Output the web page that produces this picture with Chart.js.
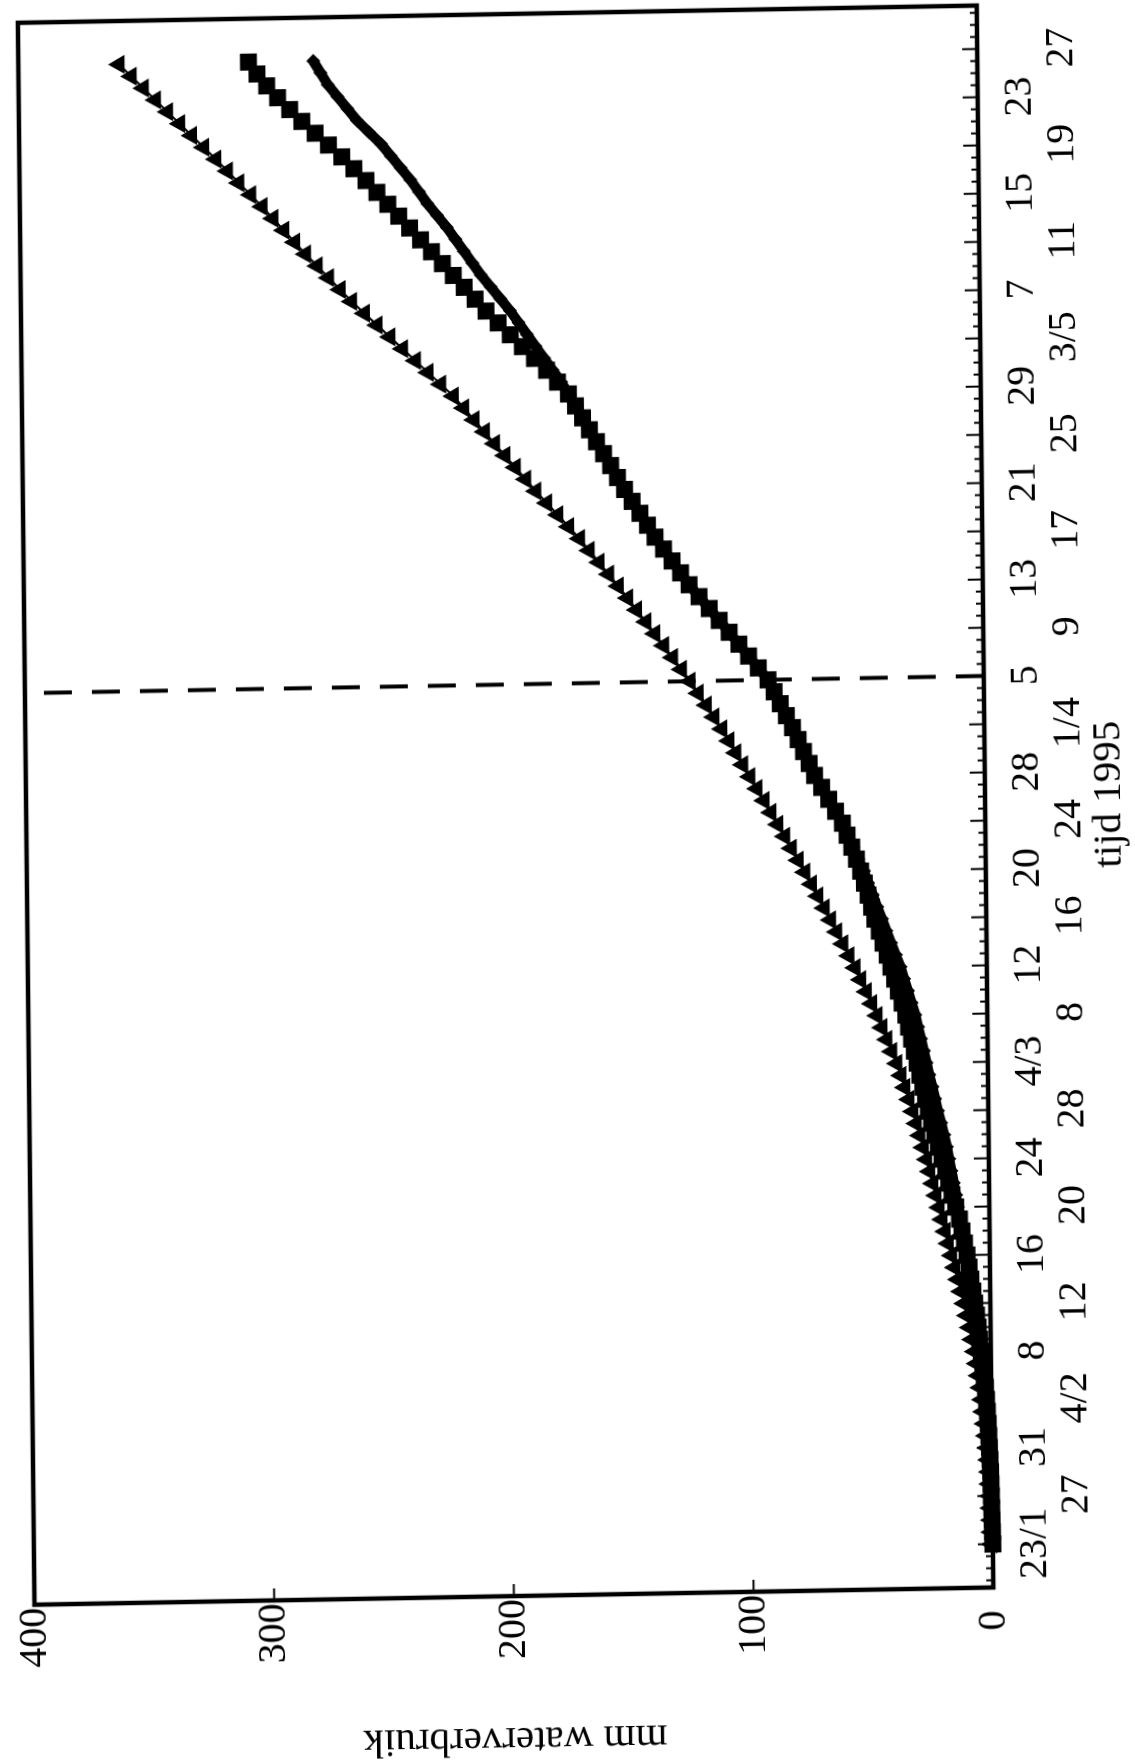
<!DOCTYPE html>
<html>
<head>
<meta charset="utf-8">
<script src="https://cdn.jsdelivr.net/npm/chart.js@4/dist/chart.umd.min.js"></script>
<style>
  html, body { margin: 0; padding: 0; background: #fff; overflow: hidden; }
  /* scanned page sits a little crooked */
  #page {
    position: absolute; left: 0; top: 0;
    width: 1135px; height: 1764px;
    transform-origin: 567px 882px;
    transform: matrix(1, -0.018, 0.0105, 1, 0, 0);
  }
  /* the chart is drawn landscape and turned a quarter turn */
  #wrap {
    position: absolute; left: 0; top: 0;
    width: 1764px; height: 1135px;
    transform-origin: 0 0;
    transform: translate(0, 1764px) rotate(-90deg);
  }
</style>
</head>
<body>
<div id="page"><div id="wrap"><canvas id="chart" width="1764" height="1135"></canvas></div></div>
<script>
// days since 23/1/1995
const days = Array.from({ length: 125 }, (_, i) => i);

// tick every 4 days
const tickDays = [0, 4, 8, 12, 16, 20, 24, 28, 32, 36, 40, 44, 48, 52, 56, 60,
    64, 68, 72, 76, 80, 84, 88, 92, 96, 100, 104, 108, 112, 116, 120, 124];
const tickLabels = ["23/1", "27", "31", "4/2", "8", "12", "16", "20", "24", "28",
    "4/3", "8", "12", "16", "20", "24", "28", "1/4", "5", "9", "13", "17", "21",
    "25", "29", "3/5", "7", "11", "15", "19", "23", "27"];

const markerDay = 72; // 5/4, dashed line

// mm waterverbruik, triangles
const triangles = [
    0.5, 0.6, 0.7, 0.9, 1.0,
    1.2, 1.4, 1.7, 2.0, 2.5, 3.0, 3.5, 4.0, 4.6, 5.3, 6.0, 6.8,
    7.8, 8.8, 9.9, 11.0, 12.2, 13.5, 14.7, 16.0, 17.3, 18.6, 19.8, 21.0,
    22.2, 23.5, 24.7, 26.0, 27.3, 28.7, 30.1, 31.5, 33.1, 34.7, 36.3, 38.0,
    40.0, 42.0, 44.0, 46.0, 48.2, 50.4, 52.7, 55.0, 57.5, 60.0, 62.5, 65.0,
    67.6, 70.2, 72.8, 75.5, 78.2, 81.0, 83.7, 86.5, 89.4, 92.2, 95.1, 98.0,
    100.9, 103.8, 106.6, 109.5, 112.7, 115.9, 119.2, 122.5, 126.1, 129.7, 133.4, 137.0,
    140.7, 144.5, 148.2, 152.0, 156.0, 160.0, 164.0, 168.0, 172.5, 177.0, 181.5, 186.0,
    190.2, 194.5, 198.8, 203.0, 207.2, 211.5, 215.7, 220.0, 225.2, 230.5, 235.7, 241.0,
    246.2, 251.5, 256.7, 262.0, 266.7, 271.5, 276.2, 281.0, 285.5, 290.0, 294.5, 299.0,
    303.7, 308.5, 313.2, 318.0, 323.0, 328.0, 333.0, 338.0, 343.0, 348.0, 353.0, 358.0
];

// squares
const squares = [
    0.0, 0.1, 0.2, 0.3, 0.4,
    0.5, 0.6, 0.8, 1.0, 1.2, 1.4, 1.7, 2.0, 2.4, 2.9, 3.4, 4.0,
    4.6, 5.2, 5.8, 6.5, 7.2, 8.0, 8.7, 9.5, 10.5, 11.5, 12.5, 14.0,
    15.5, 16.8, 18.0, 19.5, 21.0, 22.4, 23.7, 25.0, 26.1, 27.2, 28.4, 29.5,
    30.6, 31.7, 32.9, 34.0, 35.5, 37.0, 38.5, 40.0, 41.5, 43.2, 44.7, 46.5,
    47.8, 49.2, 50.7, 52.2, 53.9, 55.8, 57.7, 59.6, 62.4, 65.2, 68.1, 71.0,
    73.2, 75.5, 77.7, 80.0, 82.5, 85.0, 87.5, 90.0, 94.0, 98.0, 102.0, 106.0,
    110.1, 114.2, 118.4, 122.5, 126.0, 129.5, 133.0, 136.5, 139.6, 142.7, 145.9, 149.0,
    151.9, 154.7, 157.6, 160.5, 163.4, 166.2, 169.1, 172.0, 176.5, 181.0, 186.0, 191.0,
    196.0, 201.0, 206.0, 210.5, 215.0, 219.5, 224.0, 228.5, 233.0, 237.5, 242.0, 246.5,
    251.0, 255.5, 260.5, 265.5, 271.0, 276.5, 282.0, 287.0, 292.0, 296.5, 300.5, 304.0
];

// diamonds
const diamonds = [
    0.0, 0.1, 0.2, 0.3, 0.4,
    0.5, 0.6, 0.8, 1.0, 1.2, 1.4, 1.7, 2.0, 2.4, 2.9, 3.4, 4.0,
    4.6, 5.2, 5.8, 6.5, 7.2, 8.0, 8.7, 9.5, 10.5, 11.5, 12.5, 13.0,
    13.8, 14.7, 15.6, 16.5, 17.4, 18.5, 19.7, 21.0, 22.1, 23.2, 24.4, 25.5,
    26.6, 27.7, 28.9, 30.0, 31.5, 33.0, 34.5, 36.0, 37.9, 39.8, 41.7, 43.5,
    45.4, 47.2, 49.1, 50.8, 53.1, 55.2, 57.3, 59.4, 62.4, 65.2, 68.1, 71.0,
    73.2, 75.5, 77.7, 80.0, 82.5, 85.0, 87.5, 90.0, 94.0, 98.0, 102.0, 106.0,
    110.1, 114.2, 118.4, 122.5, 126.0, 129.5, 133.0, 136.5, 139.6, 142.7, 145.9, 149.0,
    151.9, 154.7, 157.6, 160.5, 163.4, 166.2, 169.1, 172.0, 175.0, 178.5, 182.0, 185.5,
    189.0, 192.5, 196.0, 200.0, 204.0, 208.0, 211.5, 215.0, 218.5, 222.0, 226.0, 230.0,
    233.5, 237.0, 241.0, 245.0, 249.0, 254.0, 259.0, 263.0, 267.0, 271.0, 274.0, 277.0
];

const valueTicks = [0, 100, 200, 300, 400];

const serif = "'Liberation Serif', 'Times New Roman', serif";
const xy = (vals) => days.map((d, i) => ({ x: d, y: vals[i] }));

// frame and small inward ticks
const frame = {
    id: "frame",
    afterDatasetsDraw(chart) {
        const { ctx, chartArea: a, scales: { x, y } } = chart;
        ctx.save();
        ctx.strokeStyle = "#000";
        ctx.lineWidth = 2;
        for (let d = -3; d <= 127; d++) {
            const px = x.getPixelForValue(d);
            const len = d % 4 === 0 ? 15 : 7;
            ctx.beginPath();
            ctx.moveTo(px, a.bottom);
            ctx.lineTo(px, a.bottom - len);
            ctx.stroke();
        }
        valueTicks.slice(1, -1).forEach((v) => {
            const py = y.getPixelForValue(v);
            ctx.beginPath();
            ctx.moveTo(a.left, py);
            ctx.lineTo(a.left + 12, py);
            ctx.stroke();
        });
        ctx.lineWidth = 4.5;
        ctx.strokeRect(a.left, a.top, a.right - a.left, a.bottom - a.top);
        ctx.restore();
    },
};

new Chart(document.getElementById("chart"), {
    type: "line",
    data: {
        datasets: [
            {
                data: xy(triangles),
                pointStyle: "triangle",
                pointRadius: 11,
                borderWidth: 2,
            },
            {
                data: xy(squares),
                pointStyle: "rect",
                pointRadius: 12,
                borderWidth: 2,
            },
            {
                data: xy(diamonds),
                pointStyle: "rectRot",
                pointRadius: 7,
                borderWidth: 10,
            },
            {
                data: [{ x: markerDay, y: 0 }, { x: markerDay, y: 400 }],
                pointRadius: 0,
                borderWidth: 4,
                borderDash: [28, 20],
            },
        ].map((ds) => ({
            borderColor: "#000",
            backgroundColor: "#000",
            pointBorderWidth: 0,
            clip: false,
            ...ds,
        })),
    },
    options: {
        responsive: false,
        animation: false,
        events: [],
        devicePixelRatio: 1,
        layout: { padding: { top: 26, right: 13, left: 0, bottom: 0 } },
        plugins: { legend: { display: false }, tooltip: { enabled: false } },
        scales: {
            x: {
                type: "linear",
                min: -3.6,
                max: 127.6,
                grid: { display: false, drawTicks: false },
                border: { display: false },
                afterBuildTicks: (s) => {
                    s.ticks = tickDays.map((v) => ({ value: v }));
                },
                afterFit: (s) => {
                    s.height = 149;
                },
                ticks: {
                    autoSkip: false,
                    maxRotation: 0,
                    minRotation: 0,
                    padding: 21,
                    color: "#000",
                    font: { family: serif, size: 40, lineHeight: "42px" },
                    callback: (v, i) =>
                        i % 2 === 0 ? [tickLabels[i], ""] : ["", tickLabels[i]],
                },
                title: {
                    display: true,
                    text: "tijd 1995",
                    color: "#000",
                    padding: { top: 0, bottom: 0 },
                    font: { family: serif, size: 41 },
                },
            },
            y: {
                min: 0,
                max: 400,
                grid: { display: false, drawTicks: false },
                border: { display: false },
                afterBuildTicks: (s) => {
                    s.ticks = valueTicks.map((v) => ({ value: v }));
                },
                afterFit: (s) => {
                    s.width = 169;
                },
                ticks: {
                    crossAlign: "center",
                    padding: 3,
                    color: "#000",
                    font: { family: serif, size: 40 },
                },
                title: {
                    display: true,
                    text: "mm waterverbruik",
                    color: "#000",
                    padding: { top: 2, bottom: 0 },
                    font: { family: serif, size: 41 },
                },
            },
        },
    },
    plugins: [frame],
});
</script>
</body>
</html>
